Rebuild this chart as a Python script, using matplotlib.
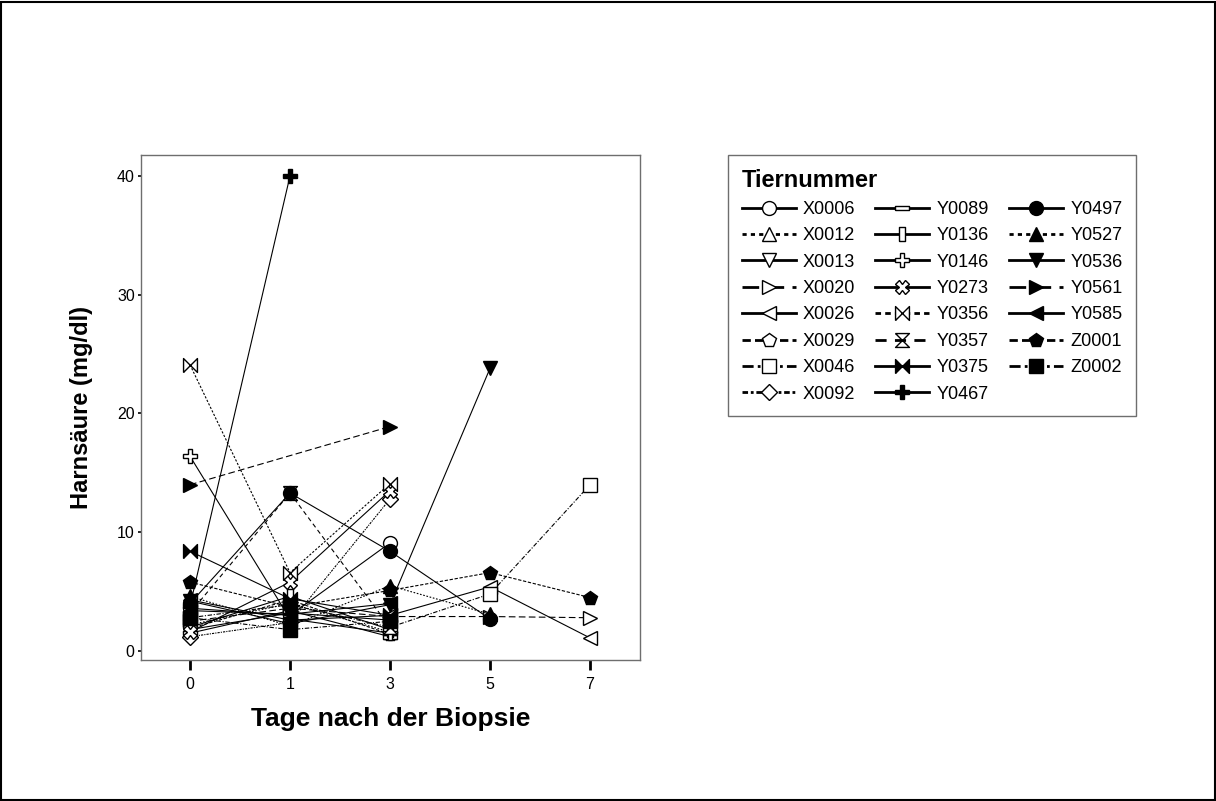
import numpy as np
import matplotlib.pyplot as plt
from matplotlib.lines import Line2D
from matplotlib.patches import Rectangle

plt.rcParams['font.family'] = ['Liberation Sans', 'DejaVu Sans']

# Tage nach der Biopsie (kategorial)
tage = ['0', '1', '3', '5', '7']
nan = np.nan

# Harnsäure (mg/dl) je Tier an den Tagen 0, 1, 3, 5, 7
X0006 = [3.6, 3.0, 9.1, nan, nan]
X0012 = [2.2, 4.0, 1.6, nan, nan]
X0013 = [1.8, 3.2, 2.6, nan, nan]
X0020 = [2.5, 3.6, 2.9, 2.9, 2.8]
X0026 = [4.3, 2.6, 3.0, 5.4, 1.1]
X0029 = [1.9, 4.3, 1.4, nan, nan]
X0046 = [2.8, 3.9, 2.0, 4.8, 14.0]
X0092 = [1.2, 2.4, 12.8, nan, nan]
Y0089 = [1.5, 3.4, 1.2, nan, nan]
Y0136 = [2.0, 4.6, 1.8, nan, nan]
Y0146 = [16.4, 2.7, 1.5, nan, nan]
Y0273 = [1.6, 5.8, 13.5, nan, nan]
Y0356 = [24.1, 6.6, 14.1, nan, nan]
Y0357 = [3.2, 13.3, 2.0, nan, nan]
Y0375 = [8.4, 4.4, 3.0, nan, nan]
Y0467 = [3.8, 40.0, nan, nan, nan]
Y0497 = [4.0, 13.3, 8.4, 2.7, nan]
Y0527 = [4.6, 2.1, 5.5, 3.1, nan]
Y0536 = [4.2, 2.3, 3.9, 23.8, nan]
Y0561 = [14.0, nan, 18.9, nan, nan]
Y0585 = [3.4, 3.1, 4.0, nan, nan]
Z0001 = [5.8, 3.7, 5.1, 6.6, 4.5]
Z0002 = [2.8, 1.8, 2.5, nan, nan]

tiere = ['X0006', 'X0012', 'X0013', 'X0020', 'X0026', 'X0029', 'X0046', 'X0092',
         'Y0089', 'Y0136', 'Y0146', 'Y0273', 'Y0356', 'Y0357', 'Y0375', 'Y0467',
         'Y0497', 'Y0527', 'Y0536', 'Y0561', 'Y0585', 'Z0001', 'Z0002']
werte = [X0006, X0012, X0013, X0020, X0026, X0029, X0046, X0092,
         Y0089, Y0136, Y0146, Y0273, Y0356, Y0357, Y0375, Y0467,
         Y0497, Y0527, Y0536, Y0561, Y0585, Z0001, Z0002]

# eigene Symbole
rect_h = [(-1, -0.35), (1, -0.35), (1, 0.35), (-1, 0.35), (-1, -0.35)]
rect_v = [(-0.4, -1), (0.4, -1), (0.4, 1), (-0.4, 1), (-0.4, -1)]
bowtie = [(-1, -1), (-1, 1), (0, 0), (1, 1), (1, -1), (0, 0), (-1, -1)]
hourglass = [(-1, 1), (1, 1), (0, 0), (1, -1), (-1, -1), (0, 0), (-1, 1)]

dot = (0, (1.5, 1.5))
dash = (0, (6, 3))
dash2 = (0, (4, 3))
dash3 = (0, (3, 1.5))
dashdot = (0, (4, 1.5, 1, 1.5))
dotdash = (0, (2, 1, 1, 1))
dotshort = (0, (2, 1.5))

# Linienart, Symbol, gefüllt, Symbolgröße
stile = {
    'X0006': ('-', 'o', False, 10),
    'X0012': (dot, '^', False, 10),
    'X0013': ('-', 'v', False, 10),
    'X0020': (dash, '>', False, 10),
    'X0026': ('-', '<', False, 10),
    'X0029': (dash3, 'p', False, 10),
    'X0046': (dashdot, 's', False, 9.5),
    'X0092': (dotdash, 'D', False, 8),
    'Y0089': ('-', rect_h, False, 10),
    'Y0136': ('-', rect_v, False, 10),
    'Y0146': ('-', 'P', False, 10),
    'Y0273': ('-', 'X', False, 10),
    'Y0356': (dotshort, bowtie, False, 10),
    'Y0357': (dash2, hourglass, False, 10),
    'Y0375': ('-', bowtie, True, 10),
    'Y0467': ('-', 'P', True, 10),
    'Y0497': ('-', 'o', True, 10),
    'Y0527': (dot, '^', True, 10),
    'Y0536': ('-', 'v', True, 10),
    'Y0561': (dash, '>', True, 10),
    'Y0585': ('-', '<', True, 10),
    'Z0001': (dash3, 'p', True, 10),
    'Z0002': (dashdot, 's', True, 9.5),
}

fig = plt.figure(figsize=(12.16, 8.01), dpi=100)
ax = fig.add_axes([141 / 1216, 1 - 660 / 801, 499 / 1216, 505 / 801])

x = np.arange(len(tage))
handles = []
for name, y in zip(tiere, werte):
    ls, mk, filled, ms = stile[name]
    y = np.array(y, dtype=float)
    ok = ~np.isnan(y)
    fc = 'black' if filled else 'white'
    ax.plot(x[ok], y[ok], color='black', linestyle=ls, linewidth=0.8,
            marker=mk, markersize=ms, markerfacecolor=fc,
            markeredgecolor='black', markeredgewidth=1.0)
    handles.append(Line2D([], [], color='black', linestyle=ls, linewidth=2.0,
                          marker=mk, markersize=ms, markerfacecolor=fc,
                          markeredgecolor='black', markeredgewidth=1.0))

ax.set_xlim(-0.49, 4.5)
ax.set_ylim(-0.76, 41.77)
ax.set_xticks(x)
ax.set_xticklabels(tage)
ax.set_yticks([0, 10, 20, 30, 40])
ax.tick_params(axis='x', length=7, width=2, labelsize=11.5, pad=5)
ax.tick_params(axis='y', length=2.5, width=1.2, labelsize=11.5, pad=2)
for s in ax.spines.values():
    s.set_color('#6e6e6e')
    s.set_linewidth(1.0)

ax.set_xlabel('Tage nach der Biopsie', fontsize=19, fontweight='bold', labelpad=11)
ax.set_ylabel('Harnsäure (mg/dl)', fontsize=17, fontweight='bold', labelpad=17)

leg = fig.legend(handles, tiere, ncol=3, loc='upper left',
                 bbox_to_anchor=(728 / 1216, 1 - 155 / 801),
                 bbox_transform=fig.transFigure, borderaxespad=0,
                 title='Tiernummer', fontsize=13, handlelength=3.0,
                 handletextpad=0.4, columnspacing=1.1, labelspacing=0.52,
                 borderpad=0.75, fancybox=False, framealpha=1)
leg._legend_box.align = 'left'
leg.get_title().set_fontweight('bold')
leg.get_title().set_fontsize(17)
leg.get_frame().set_edgecolor('#6e6e6e')
leg.get_frame().set_linewidth(1.0)

# Rahmen um die gesamte Grafik
fig.patches.append(Rectangle((0.001, 0.001), 0.998, 0.997, transform=fig.transFigure,
                             fill=False, edgecolor='black', linewidth=1.5))

fig.savefig('out.png', dpi=100)
